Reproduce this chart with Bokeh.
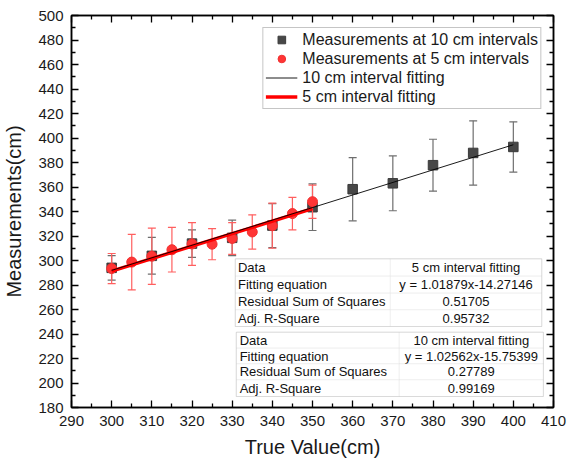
from bokeh.plotting import figure
from bokeh.models import (FixedTicker, LinearAxis, Legend, LegendItem, BoxAnnotation,
                          Label, ColumnDataSource, Range1d)
from bokeh.embed import file_html
from bokeh.resources import INLINE

# ---------------- data ----------------
x10 = [300, 310, 320, 330, 340, 350, 360, 370, 380, 390, 400]
y10 = [294, 303.8, 313.8, 318.5, 328.5, 343.5, 358.2, 363, 377.8, 387.8, 392.7]
err10 = [10, 15, 11.2, 14.5, 18, 19, 25.8, 22.4, 21.2, 26.2, 20.5]

x5 = [300, 305, 310, 315, 320, 325, 330, 335, 340, 345, 350]
y5 = [293.4, 298.7, 303.5, 308.8, 313.5, 313.3, 318, 323.3, 328.4, 338.3, 348]
err5 = [12.3, 22.7, 23, 18.2, 17.5, 12.7, 13, 14, 18.4, 13.3, 13.6]

fit10_x = [300, 400]
fit10_y = [291.93, 394.49]
fit5_x = [300, 350]
fit5_y = [291.37, 342.30]

x_ticks = list(range(290, 411, 10))
x_minor = list(range(295, 410, 10))
y_ticks = list(range(180, 501, 20))
y_minor = list(range(190, 500, 20))

legend_labels = ["Measurements at 10 cm intervals", "Measurements at 5 cm intervals",
                 "10 cm interval fitting", "5 cm interval fitting"]

table1 = [["Data", "5 cm interval fitting"],
          ["Fitting equation", "y = 1.01879x-14.27146"],
          ["Residual Sum of Squares", "0.51705"],
          ["Adj. R-Square", "0.95732"]]
table2 = [["Data", "10 cm interval fitting"],
          ["Fitting equation", "y = 1.02562x-15.75399"],
          ["Residual Sum of Squares", "0.27789"],
          ["Adj. R-Square", "0.99169"]]

FONT = "Liberation Sans"

# ---------------- figure ----------------
p = figure(width=569, height=465, output_backend="svg", toolbar_location=None,
           x_range=Range1d(290, 410), y_range=Range1d(180, 500),
           min_border_left=68, min_border_right=16, min_border_top=15, min_border_bottom=58,
           x_axis_label="True Value(cm)", y_axis_label="Measurements(cm)")
p.grid.visible = False
p.outline_line_color = "black"
p.outline_line_width = 1.5
p.background_fill_color = "white"
p.border_fill_color = "white"


def style_axis(ax, ticks, minor, labels=True):
    ax.ticker = FixedTicker(ticks=ticks, minor_ticks=minor)
    ax.major_tick_in = 7
    ax.major_tick_out = 0
    ax.minor_tick_in = 4
    ax.minor_tick_out = 0
    ax.axis_line_color = "black"
    ax.axis_line_width = 1.5
    ax.major_tick_line_color = "black"
    ax.minor_tick_line_color = "black"
    ax.major_tick_line_width = 1.3
    ax.minor_tick_line_width = 1.3
    ax.major_label_text_font = FONT
    ax.major_label_text_color = "#1a1a1a"
    ax.axis_label_text_font = FONT
    ax.axis_label_text_font_style = "normal"
    ax.axis_label_text_font_size = "20px"
    ax.axis_label_text_color = "#1a1a1a"
    if labels:
        ax.major_label_text_font_size = "15px"
        ax.major_label_standoff = 8
    else:
        ax.major_label_text_font_size = "0px"
        ax.major_label_text_alpha = 0
        ax.major_label_standoff = 0


style_axis(p.xaxis[0], x_ticks, x_minor)
style_axis(p.yaxis[0], y_ticks, y_minor)
p.xaxis[0].axis_label_standoff = 7
p.yaxis[0].axis_label_standoff = 10

top_ax = LinearAxis()
style_axis(top_ax, x_ticks, x_minor, labels=False)
p.add_layout(top_ax, "above")
right_ax = LinearAxis()
style_axis(right_ax, y_ticks, y_minor, labels=False)
p.add_layout(right_ax, "right")

# ---------------- error bars & points ----------------
s10 = ColumnDataSource(dict(x=x10, y=y10,
                            lo=[v - e for v, e in zip(y10, err10)],
                            hi=[v + e for v, e in zip(y10, err10)]))
s5 = ColumnDataSource(dict(x=x5, y=y5,
                           lo=[v - e for v, e in zip(y5, err5)],
                           hi=[v + e for v, e in zip(y5, err5)]))

GREY_ERR = "#6e6e6e"
RED_ERR = "#ff5f5f"

p.segment(x0="x", y0="lo", x1="x", y1="hi", source=s10, line_color=GREY_ERR, line_width=1.2)
p.scatter(x="x", y="lo", source=s10, marker="dash", size=8, line_color=GREY_ERR, line_width=1.2)
p.scatter(x="x", y="hi", source=s10, marker="dash", size=8, line_color=GREY_ERR, line_width=1.2)
sq = p.scatter(x="x", y="y", source=s10, marker="square", size=9.5,
               fill_color="#474747", line_color="#3a3a3a")

p.segment(x0="x", y0="lo", x1="x", y1="hi", source=s5, line_color=RED_ERR, line_width=1.2)
p.scatter(x="x", y="lo", source=s5, marker="dash", size=8, line_color=RED_ERR, line_width=1.2)
p.scatter(x="x", y="hi", source=s5, marker="dash", size=8, line_color=RED_ERR, line_width=1.2)
ci = p.scatter(x="x", y="y", source=s5, marker="circle", size=10,
               fill_color="#ff3535", line_color="#f03030")

red_line = p.line(fit5_x, fit5_y, line_color="#ff0000", line_width=3.5)
black_line = p.line(fit10_x, fit10_y, line_color="black", line_width=0.9)

# ---------------- legend ----------------
legend = Legend(items=[LegendItem(label=legend_labels[0], renderers=[sq]),
                       LegendItem(label=legend_labels[1], renderers=[ci]),
                       LegendItem(label=legend_labels[2], renderers=[black_line]),
                       LegendItem(label=legend_labels[3], renderers=[red_line])],
                location="top_right", margin=12, padding=2, spacing=0,
                glyph_width=32, glyph_height=19, label_height=19, label_standoff=5,
                label_text_font=FONT, label_text_font_size="16px",
                label_text_color="#1a1a1a",
                border_line_color="#8c8c8c", border_line_width=1,
                background_fill_color="white", background_fill_alpha=1)
p.add_layout(legend)

# ---------------- tables (drawn in pixel positions converted to data units) ----------------
def dx(px):
    return 290 + (px - 68.5) * 120.0 / 485.0


def dy(py):
    return 180 + (407 - py) * 320.0 / 392.0


def draw_table(rows, cols_px, rows_px, text_left_px):
    for r, row in enumerate(rows):
        for c in range(2):
            p.add_layout(BoxAnnotation(left=dx(cols_px[c]), right=dx(cols_px[c + 1]),
                                       top=dy(rows_px[r]), bottom=dy(rows_px[r + 1]),
                                       fill_color="white", fill_alpha=1,
                                       line_color="#dcdcdc", line_width=1))
        ymid = dy((rows_px[r] + rows_px[r + 1]) / 2.0)
        p.add_layout(Label(x=dx(text_left_px), y=ymid, text=row[0], text_align="left",
                           text_baseline="middle", text_font=FONT, text_font_size="13px",
                           text_color="#111111"))
        p.add_layout(Label(x=dx((cols_px[1] + cols_px[2]) / 2.0), y=ymid, text=row[1],
                           text_align="center", text_baseline="middle", text_font=FONT,
                           text_font_size="13px", text_color="#111111"))
    p.add_layout(BoxAnnotation(left=dx(cols_px[0]), right=dx(cols_px[2]),
                               top=dy(rows_px[0]), bottom=dy(rows_px[-1]),
                               fill_alpha=0, line_color="#a0a0a0", line_width=1))


draw_table(table1, [233.3, 389.3, 541.7], [258.3, 275.7, 292.7, 309.3, 326], 236)
draw_table(table2, [234.3, 398.3, 543.3], [331.7, 347.7, 363.3, 379.3, 396], 237.7)

open("out.html", "w").write(file_html(p, INLINE))
